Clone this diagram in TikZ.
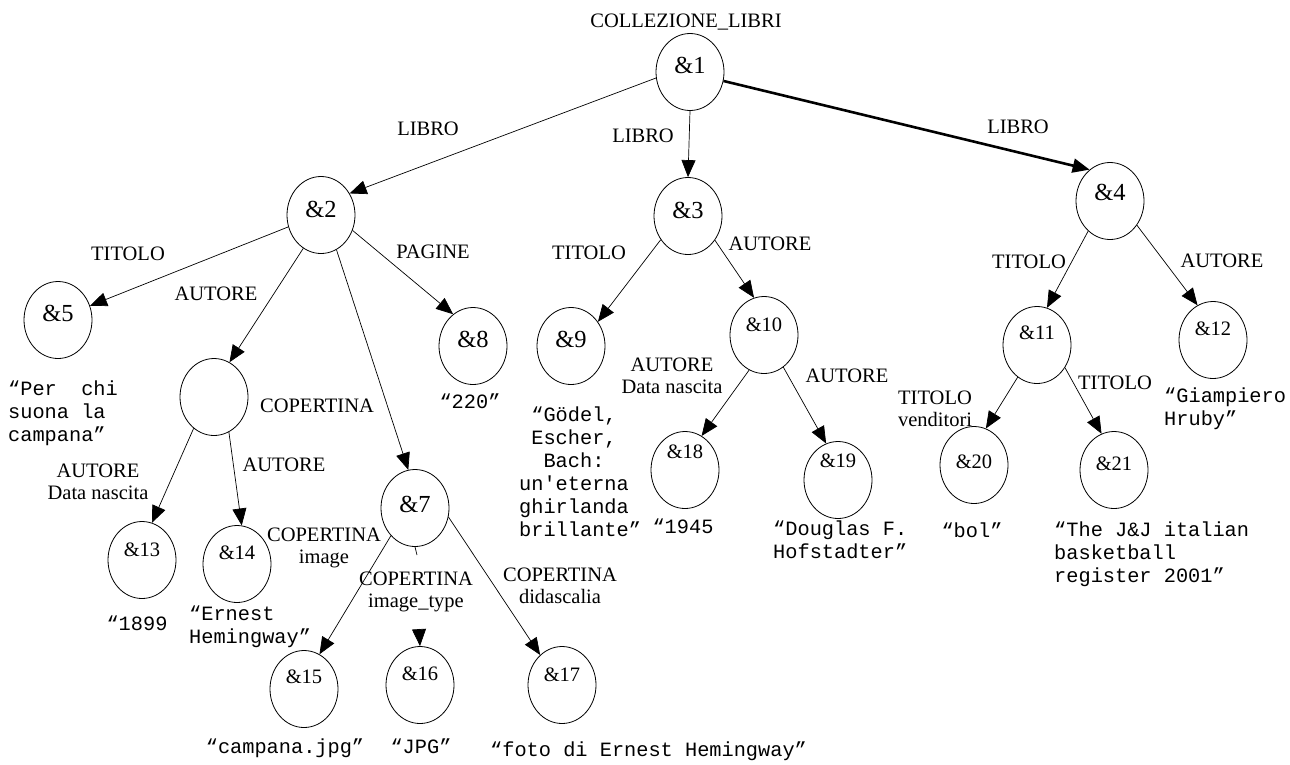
\documentclass[tikz,border=0pt]{standalone}
\usepackage{fontspec}
\setmainfont{Liberation Serif}
\setmonofont{Liberation Mono}
\usetikzlibrary{shapes.geometric,arrows.meta}
\begin{document}
\begin{tikzpicture}[x=1pt,y=-1pt,
  obj/.style={draw, line width=0.8pt, ellipse, minimum width=68pt, minimum height=77pt, inner sep=0pt},
  big/.style={font=\fontsize{24.5}{26}\selectfont, inner sep=0pt},
  small/.style={font=\fontsize{20.5}{22}\selectfont, inner sep=0pt},
  lbl/.style={font=\fontsize{20.5}{22}\selectfont, inner sep=0pt, align=center},
  mono/.style={font=\ttfamily\fontsize{20.3}{23}\selectfont, inner sep=0pt},
  edge/.style={line width=0.7pt, -{Triangle[length=17pt,width=14pt]}},
  heavy/.style={line width=2.6pt, -{Triangle[length=17pt,width=14pt]}},
]
\useasboundingbox (0,0) rectangle (1290,764);

% ---- objects ----
\node[obj] (n1) at (690,72) {};   \node[big]   (t1)  at ([yshift=7pt]n1.center)  {\&1};
\node[obj] (n2) at (321,215) {};  \node[big]   (t2)  at ([yshift=6pt]n2.center)  {\&2};
\node[obj] (n3) at (688,216) {};  \node[big]   (t3)  at ([yshift=6pt]n3.center)  {\&3};
\node[obj] (n4) at (1110,201) {}; \node[big]   (t4)  at ([yshift=9pt]n4.center)  {\&4};
\node[obj] (n5) at (58,320) {};   \node[big]   (t5)  at ([yshift=7pt]n5.center)  {\&5};
\node[obj] (nA) at (214,397) {};
\node[obj] (n7) at (415,508) {};  \node[big]   (t7)  at ([yshift=4pt]n7.center)  {\&7};
\node[obj] (n8) at (473,346) {};  \node[big]   (t8)  at ([yshift=7pt]n8.center)  {\&8};
\node[obj] (n9) at (571,346) {};  \node[big]   (t9)  at ([yshift=7pt]n9.center)  {\&9};
\node[obj] (n10) at (764,335) {}; \node[small] (t10) at ([yshift=10pt]n10.center) {\&10};
\node[obj] (n11) at (1037,345) {};\node[small] (t11) at ([yshift=12pt]n11.center) {\&11};
\node[obj] (n12) at (1213,340) {};\node[small] (t12) at ([yshift=11pt]n12.center) {\&12};
\node[obj] (n13) at (142,560) {}; \node[small] (t13) at ([yshift=10pt]n13.center) {\&13};
\node[obj] (n14) at (237,564) {}; \node[small] (t14) at ([yshift=11pt]n14.center) {\&14};
\node[obj] (n15) at (304,689) {}; \node[small] (t15) at ([yshift=12pt]n15.center) {\&15};
\node[obj] (n16) at (420,685) {}; \node[small] (t16) at ([yshift=11pt]n16.center) {\&16};
\node[obj] (n17) at (562,685) {}; \node[small] (t17) at ([yshift=10pt]n17.center) {\&17};
\node[obj] (n18) at (685,470) {}; \node[small] (t18) at ([yshift=18pt]n18.center) {\&18};
\node[obj] (n19) at (838,480) {}; \node[small] (t19) at ([yshift=19pt]n19.center) {\&19};
\node[obj] (n20) at (974,465) {}; \node[small] (t20) at ([yshift=3pt]n20.center)  {\&20};
\node[obj] (n21) at (1114,470) {};\node[small] (t21) at ([yshift=6pt]n21.center)  {\&21};

% ---- connectors ----
\draw[edge]  (n1.190) -- (n2.37);
\draw[edge]  (n1.south) -- (n3.north);
\draw[heavy] (n1.-15) -- (n4.123);
\draw[edge]  (n2.200) -- (n5.24);
\draw[edge]  (n2.242) -- (nA.66);
\draw[edge]  (n2.294) -- (n7.100);
\draw[edge]  (n2.334) -- (n8.122);
\draw[edge]  (nA.237) -- (n13.75);
\draw[edge]  (nA.293) -- (n14.83);
\draw[edge]  (n7.229) -- (n15.66);
% the image_type link is broken by its label: a short stub and a bare head
\coordinate (c7a) at (417,555);
\coordinate (c16a) at (419,629);
\draw[line width=0.7pt] (n7.south) -- (c7a);
\draw[edge]  (c16a) -- (n16.north);
\draw[edge]  (n7.345) -- (n17.126);
\draw[edge]  (n3.221) -- (n9.42);
\draw[edge]  (n3.318) -- (n10.105);
\draw[edge]  (n10.247) -- (n18.64);
\draw[edge]  (n10.301) -- (n19.108);
\draw[edge]  (n4.234) -- (n11.75);
\draw[edge]  (n4.318) -- (n12.114);
\draw[edge]  (n11.239) -- (n20.72);
\draw[edge]  (n11.321) -- (n21.109);

% ---- edge labels ----
\node[lbl] (lroot) at (686,22) {COLLEZIONE\_LIBRI};
\node[lbl] (l12) at (428,129) {LIBRO};
\node[lbl] (l13) at (643,136) {LIBRO};
\node[lbl] (l14) at (1018,127) {LIBRO};
\node[lbl] (l25) at (128,254) {TITOLO};
\node[lbl] (l2A) at (216,294) {AUTORE};
\node[lbl] (l28) at (433,252) {PAGINE};
\node[lbl] (l27) at (317,406) {COPERTINA};
\node[lbl] (lA13) at (98,482) {AUTORE\\Data nascita};
\node[lbl] (lA14) at (284,465) {AUTORE};
\node[lbl] (l715) at (324,548) {COPERTINA\\image};
\node[lbl] (l716) at (416,592) {COPERTINA\\image\_type};
\node[lbl] (l717) at (560,586) {COPERTINA\\didascalia};
\node[lbl] (l39) at (589,253) {TITOLO};
\node[lbl] (l310) at (770,244) {AUTORE};
\node[lbl] (l1018) at (672,376) {AUTORE\\Data nascita};
\node[lbl] (l1019) at (847,376) {AUTORE};
\node[lbl] (l411) at (1029,262) {TITOLO};
\node[lbl] (l412) at (1222,261) {AUTORE};
\node[lbl] (l1120) at (935,409) {TITOLO\\venditori};
\node[lbl] (l1121) at (1115,383) {TITOLO};

% ---- values ----
\node[mono, align=left, anchor=north west] (v5) at (8,381) {“Per\ \ chi\\suona la\\campana”};
\node[mono] (v8) at (470,401) {“220”};
\node[mono, align=center] (v9) at (574,472) {“Gödel,\\Escher,\\Bach:\\un'eterna\\ghirlanda\\brillante\rlap{”}};
\node[mono] (v13) at (137,623) {“1899};
\node[mono, align=left, anchor=north west] (v14) at (189,606) {“Ernest\\Hemingway”};
\node[mono] (v15) at (285,748) {“campana.jpg”};
\node[mono] (v16) at (421,746) {“JPG”};
\node[mono, anchor=west] (v17) at (490,751) {“foto di Ernest Hemingway”};
\node[mono] (v18) at (683,526) {“1945};
\node[mono, align=left, anchor=north west] (v19) at (773,521) {“Douglas F.\\Hofstadter”};
\node[mono, align=left, anchor=north west] (v12) at (1164,388) {“Giampiero\\Hruby”};
\node[mono] (v20) at (972,530) {“bol”};
\node[mono, align=left, anchor=north west] (v21) at (1054,522) {“The J\&J italian\\basketball\\register 2001”};
\end{tikzpicture}
\end{document}
